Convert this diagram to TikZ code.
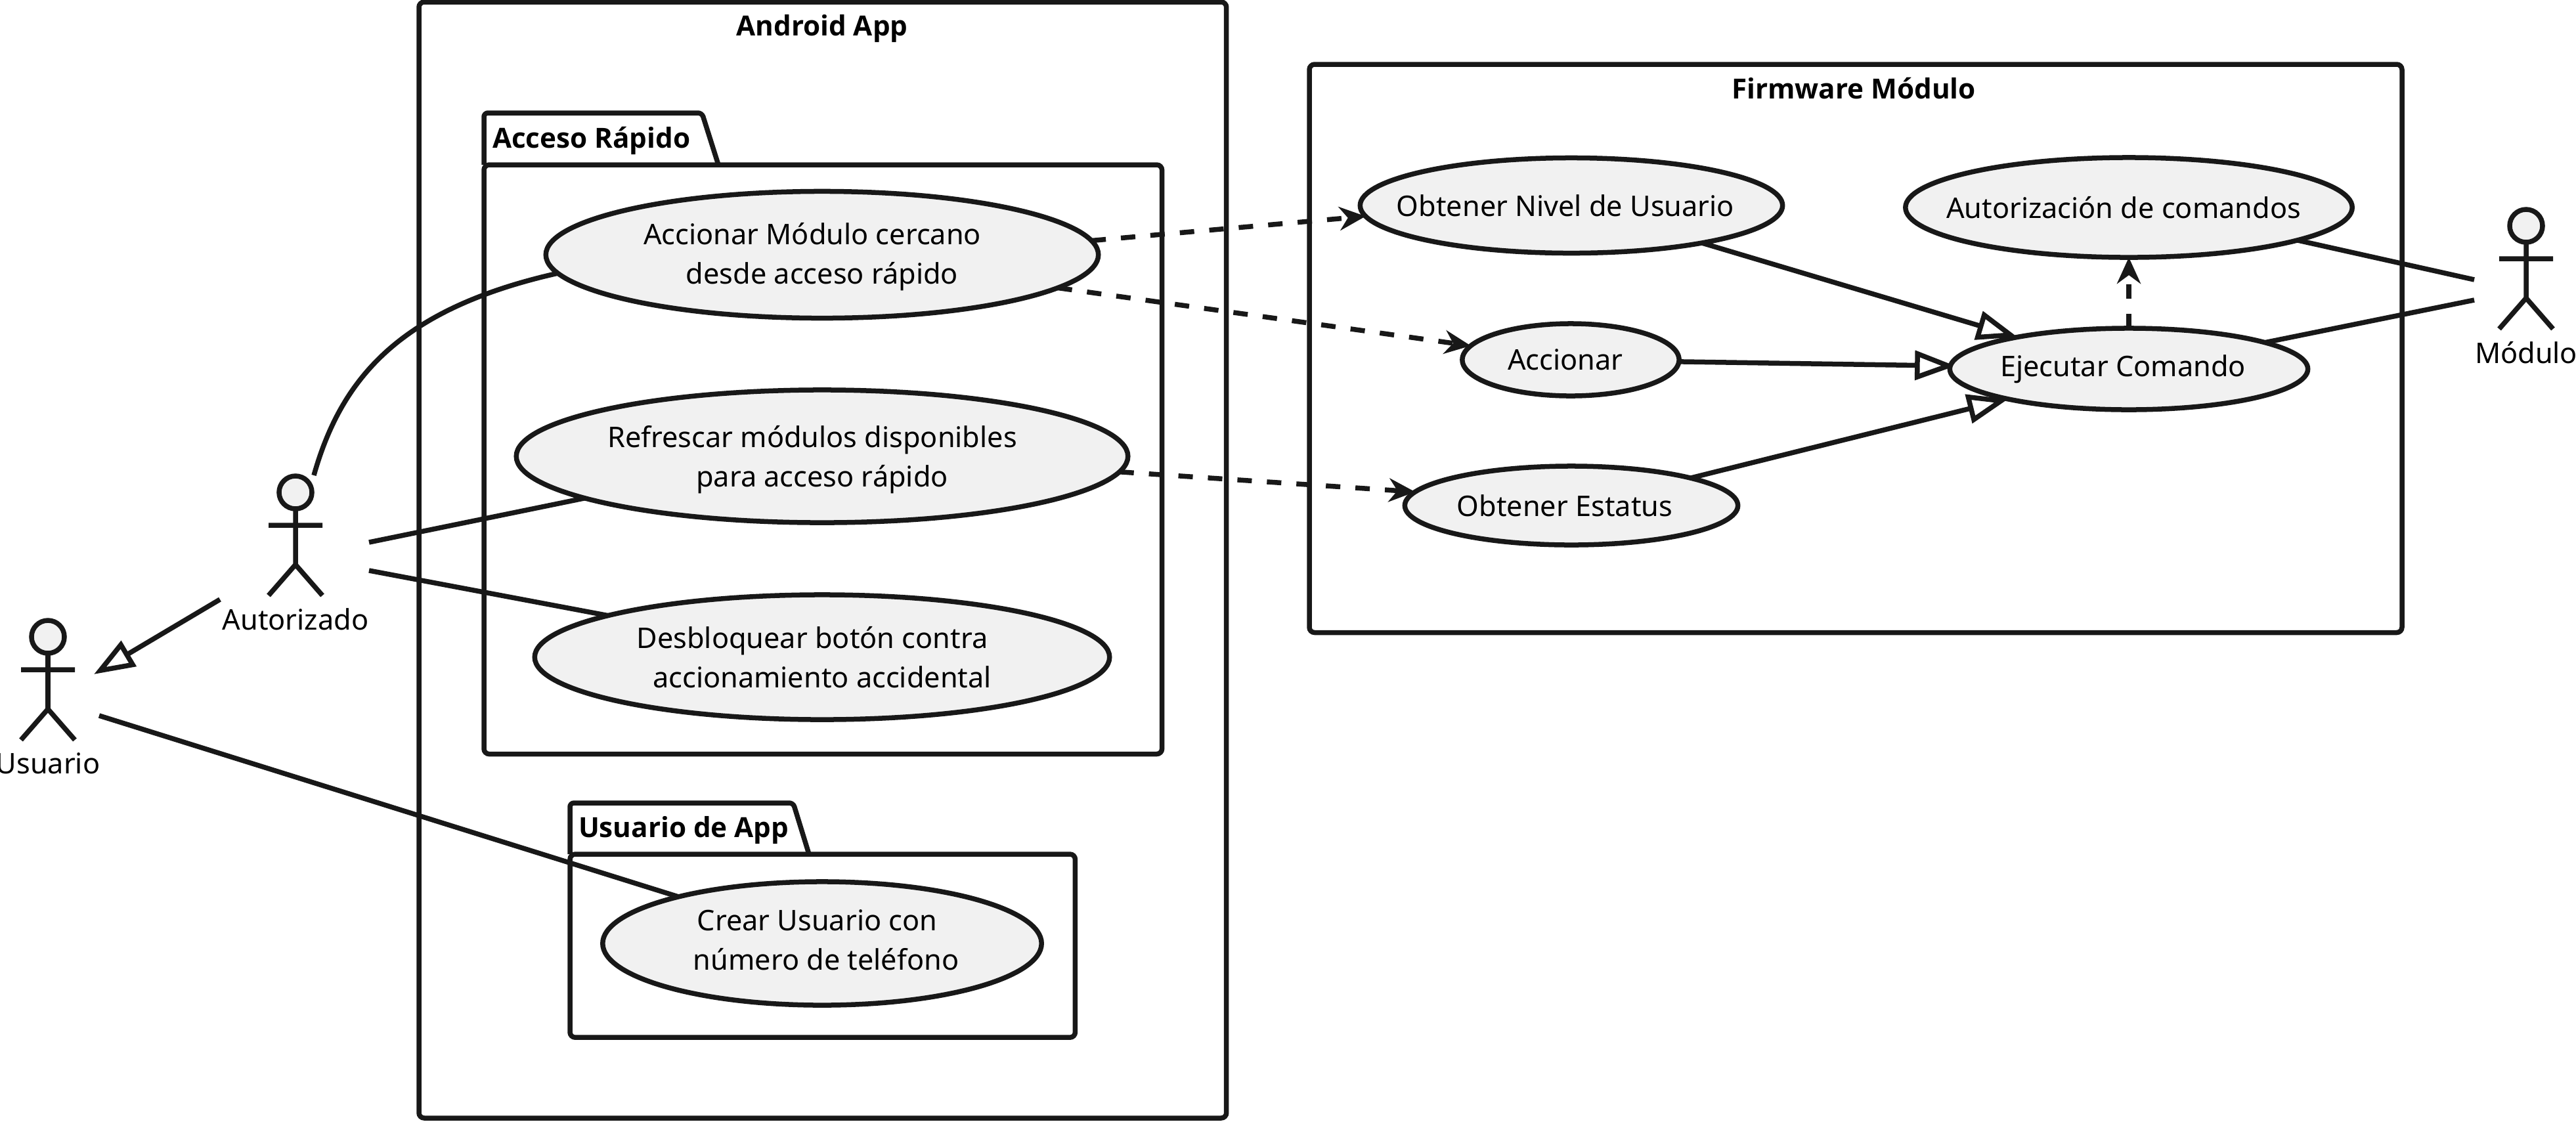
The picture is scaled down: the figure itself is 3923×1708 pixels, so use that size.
\documentclass[tikz,border=0pt]{standalone}
\usepackage{fontspec}
\setmainfont{Noto Sans}
\newfontfamily\titlefont{Open Sans}
\usetikzlibrary{arrows.meta,shapes.geometric}
\pgfdeclarelayer{conn}
\pgfsetlayers{conn,main}
\definecolor{ink}{HTML}{181818}
\definecolor{uc}{HTML}{F1F1F1}
\newcommand{\ucase}[6]{%
  \node[usecase,minimum width=#3cm,minimum height=#4cm] (#1) at (#2) {};
  \node[align=center,yshift=#6] (#1T) at (#1) {#5};
}
\tikzset{
  x=0.01cm,y=-0.01cm,
  every node/.style={font=\fontsize{12.3}{17}\selectfont,text=black,inner sep=0pt,outer sep=0pt},
  stroke/.style={draw=ink,line width=0.075cm},
  usecase/.style={stroke,ellipse,fill=uc},
  frame/.style={stroke,rectangle,rounded corners=0.08cm,anchor=north west},
  title/.style={font=\titlefont\fontsize{12}{17}\selectfont\bfseries},
  assoc/.style={stroke},
  gen/.style={stroke,-{Triangle[open,length=0.62cm,width=0.44cm,fill=white]}},
  dep/.style={stroke,dash pattern=on 0.22cm off 0.23cm,-{Stealth[length=0.4cm,width=0.36cm,inset=0.13cm]}},
  stick/.pic={
    \draw[stroke,fill=uc] (0,0) circle[radius=0.25cm];
    \draw[stroke] (0,25) -- (0,110) (-41,50) -- (41,50) (-41,157) -- (0,110) -- (41,157);
  }
}
\begin{document}
\begin{tikzpicture}
\useasboundingbox (0,0) rectangle (3923,1708);
% frames
\node[frame,minimum width=12.29cm,minimum height=16.99cm] (android) at (638,3) {};
\node[title] (androidT) at (1252,44) {Android App};
\node[frame,minimum width=16.63cm,minimum height=8.65cm] (firmware) at (1994,98) {};
\node[title] (firmwareT) at (2823,135) {Firmware Módulo};
% packages
\draw[stroke,rounded corners=0.06cm] (737,251) -- (737,172) -- (1069,172) -- (1094,251);
\node[frame,minimum width=10.32cm,minimum height=8.97cm] (rapido) at (737,251) {};
\node[title,anchor=west] (rapidoT) at (750,214) {Acceso Rápido};
\draw[stroke,rounded corners=0.06cm] (868,1301) -- (868,1223) -- (1208,1223) -- (1232,1301);
\node[frame,minimum width=7.69cm,minimum height=2.79cm] (appu) at (868,1301) {};
\node[title,anchor=west] (appuT) at (881,1265) {Usuario de App};
% use cases
\ucase{acm}{1252,388}{8.41}{1.93}{Accionar Módulo cercano\hspace*{0.3cm}\\desde acceso rápido}{-0.03cm}
\ucase{ref}{1252,695}{9.31}{2.02}{Refrescar módulos disponibles\hspace*{0.3cm}\\para acceso rápido}{-0.05cm}
\ucase{des}{1252,1001}{8.75}{1.90}{Desbloquear botón contra\hspace*{0.3cm}\\accionamiento accidental}{0cm}
\ucase{cre}{1252,1437}{6.68}{1.88}{Crear Usuario con\hspace*{0.15cm}\\\hspace*{0.12cm}número de teléfono}{0.05cm}
\ucase{niv}{2393,313}{6.43}{1.45}{Obtener Nivel de Usuario\hspace*{0.18cm}}{0cm}
\ucase{acc}{2392,548}{3.30}{1.10}{Accionar\hspace*{0.16cm}}{0cm}
\ucase{est}{2393,770}{5.07}{1.20}{Obtener Estatus\hspace*{0.2cm}}{0cm}
\ucase{aut}{3242,316}{6.80}{1.52}{Autorización de comandos\hspace*{0.16cm}}{0cm}
\ucase{eje}{3242,562}{5.45}{1.24}{Ejecutar Comando\hspace*{0.18cm}}{0cm}
% actors
\pic at (450,750) {stick};
\node (autorizado) at (450,943) {Autorizado};
\pic at (73,970) {stick};
\node (usuario) at (73,1163) {Usuario};
\pic at (3847,344) {stick};
\node (modulo) at (3847,537) {Módulo};
% free connector ends beside the actors
\coordinate (autA) at (478,724);
\coordinate (autB) at (562,826);
\coordinate (autC) at (562,869);
\coordinate (autD) at (335,913);
\coordinate (usuA) at (143,1027);
\coordinate (usuB) at (151,1090);
\coordinate (modA) at (3768,426);
\coordinate (modB) at (3768,457);
% connectors
\begin{pgfonlayer}{conn}
\draw[assoc] (autA) .. controls (520,575) and (610,470) .. (acm.184);
\draw[assoc] (autB) -- (ref.190.6);
\draw[assoc] (autC) -- (des.169.2);
\draw[gen] (autD) -- (usuA);
\draw[assoc] (usuB) -- (cre.162);
\draw[dep] (acm.3.7) -- (niv.183);
\draw[dep] (acm.-8) -- (acc.172);
\draw[dep] (ref.-3.6) -- (est.175.8);
\draw[gen] (niv.-16.1) -- (eje.164);
\draw[gen,shorten >=-0.08cm] (acc.-1) -- (eje.179);
\draw[gen] (est.13.6) -- (eje.194.5);
\draw[dep] (eje.90) -- (aut.-90);
\draw[assoc] (aut.-11.8) -- (modA);
\draw[assoc] (eje.11) -- (modB);
\end{pgfonlayer}
\end{tikzpicture}
\end{document}
